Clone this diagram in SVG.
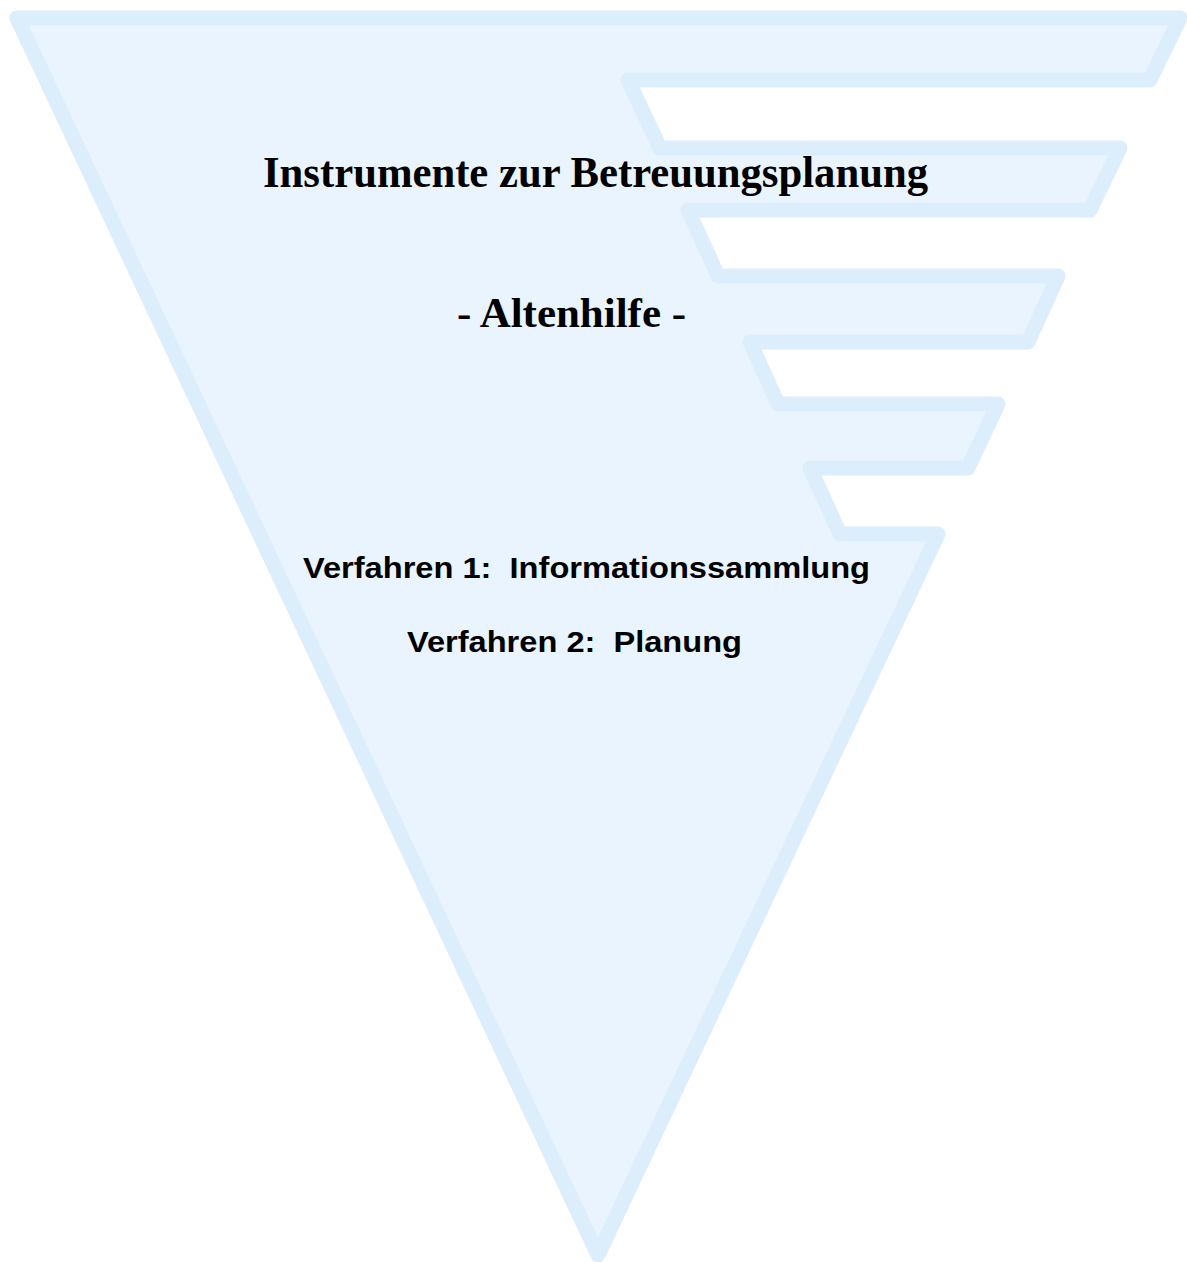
<svg xmlns="http://www.w3.org/2000/svg" width="1187" height="1262" viewBox="0 0 1187 1262">
<style>
.shape{fill:#eaf4fe;stroke:#dcedfc;stroke-width:15;stroke-linejoin:round}
.t1{font-family:"Liberation Serif","Times New Roman",serif;font-weight:bold;fill:#000}
.t2{font-family:"Liberation Sans",Arial,sans-serif;font-weight:bold;fill:#000;white-space:pre}
</style>
<rect width="1187" height="1262" fill="#fff"/>
<g id="funnel">
<path class="shape" d="M17,18 L1180,18 L1150,80 L628,80 L660,148 L1120,148 L1090,210 L688,210 L718,276 L1058,276 L1028,342 L750,342 L778,404 L998,404 L968,468 L810,468 L840,534 L938,534 L598,1255 Z"/>
</g>
<g id="labels">
<text class="t1" x="263" y="187" font-size="44" textLength="665" lengthAdjust="spacingAndGlyphs">Instrumente zur Betreuungsplanung</text>
<text class="t1" x="457" y="327" font-size="43" textLength="229" lengthAdjust="spacingAndGlyphs">- Altenhilfe -</text>
<text class="t2" x="303" y="578" font-size="30" textLength="567" lengthAdjust="spacingAndGlyphs" xml:space="preserve">Verfahren 1:  Informationssammlung</text>
<text class="t2" x="407" y="652" font-size="30" textLength="335" lengthAdjust="spacingAndGlyphs" xml:space="preserve">Verfahren 2:  Planung</text>
</g>
</svg>
